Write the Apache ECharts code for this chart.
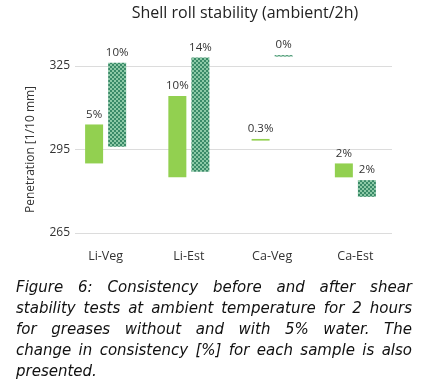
<!DOCTYPE html>
<html><head><meta charset="utf-8">
<script src="https://cdn.jsdelivr.net/npm/echarts@6/dist/echarts.min.js"></script>
<style>
html,body{margin:0;padding:0;background:#fff;}
#chart{position:absolute;left:0;top:0;width:434px;height:390px;}
#cap{position:absolute;left:16px;top:277px;width:396px;font-family:"DejaVu Sans",Verdana,sans-serif;font-style:italic;font-size:15px;line-height:21px;color:#111;}
#cap div{text-align:justify;text-align-last:justify;white-space:normal;}
#cap div.last{text-align-last:left;}
</style></head><body>
<div id="chart"></div>
<div id="cap">
<div>Figure 6: Consistency before and after shear</div>
<div>stability tests at ambient temperature for 2 hours</div>
<div>for greases without and with 5% water. The</div>
<div>change in consistency [%] for each sample is also</div>
<div class="last">presented.</div>
</div>
<script>
const categories = ['Li-Veg', 'Li-Est', 'Ca-Veg', 'Ca-Est'];
const beforeLow  = [290, 285, 298.2, 285];
const beforeHigh = [304, 314.2, 298.8, 290];
const afterLow   = [296, 287, 328.4, 278];
const afterHigh  = [326.2, 328.1, 328.9, 284];
const beforePct  = ['5%', '10%', '0.3%', '2%'];
const afterPct   = ['10%', '14%', '0%', '2%'];
const yTicks     = [265, 295, 325];

const cv = document.createElement('canvas');
cv.width = 4; cv.height = 4;
const cx = cv.getContext('2d');
cx.fillStyle = '#8cc9a6'; cx.fillRect(0,0,4,4);
cx.fillStyle = '#3a8a68'; cx.fillRect(0,0,2,2); cx.fillRect(2,2,2,2);

const chart = echarts.init(document.getElementById('chart'), null, {renderer:'canvas'});
const font = '"Open Sans", sans-serif';
const lbl = (arr) => ({show:true, position:'top', distance:4, fontFamily:font, fontSize:11.5, color:'#333',
  formatter: p => arr[p.dataIndex]});
chart.setOption({
  animation:false,
  graphic:[{type:'text', x:245, y:5, style:{text:'Shell roll stability (ambient/2h)', fontFamily:font, fontSize:16, fill:'#222', textAlign:'center'}}],
  grid:[
    {left:64, right:37, top:38.2, bottom:157},
    {left:75, right:42, top:66, bottom:157}
  ],
  xAxis:[
    {type:'category', gridIndex:0, data:categories, axisLine:{show:false}, axisTick:{show:false},
      axisLabel:{margin:17, fontFamily:font, fontSize:12.5, color:'#333'}},
    {type:'value', gridIndex:1, show:false, min:0, max:1}
  ],
  yAxis:[
    {type:'value', gridIndex:0, min:265, max:335, show:false, splitLine:{show:false}},
    {type:'value', gridIndex:1, min:yTicks[0], max:yTicks[yTicks.length-1], interval:yTicks[1]-yTicks[0],
      axisLine:{show:false}, axisTick:{show:false},
      axisLabel:{margin:5, fontFamily:font, fontSize:12, color:'#333'},
      splitLine:{lineStyle:{color:'#dcdcdc', width:1}},
      name:'Penetration [1/10 mm]', nameLocation:'middle', nameGap:38, nameRotate:90,
      nameTextStyle:{fontFamily:font, fontSize:12, color:'#333'}}
  ],
  series:[
    {type:'bar', xAxisIndex:0, yAxisIndex:0, stack:'a', barWidth:18, barGap:'28%', silent:true,
      itemStyle:{color:'transparent'}, data:beforeLow},
    {type:'bar', xAxisIndex:0, yAxisIndex:0, stack:'a', barWidth:18, barGap:'28%',
      itemStyle:{color:'#92d050'}, label:lbl(beforePct),
      data:beforeHigh.map((v,i)=>+(v-beforeLow[i]).toFixed(2))},
    {type:'bar', xAxisIndex:0, yAxisIndex:0, stack:'b', barWidth:18, barGap:'28%', silent:true,
      itemStyle:{color:'transparent'}, data:afterLow},
    {type:'bar', xAxisIndex:0, yAxisIndex:0, stack:'b', barWidth:18, barGap:'28%',
      itemStyle:{color:{image:cv, repeat:'repeat'}}, label:lbl(afterPct),
      data:afterHigh.map((v,i)=>+(v-afterLow[i]).toFixed(2))}
  ]
});
</script>
</body></html>
